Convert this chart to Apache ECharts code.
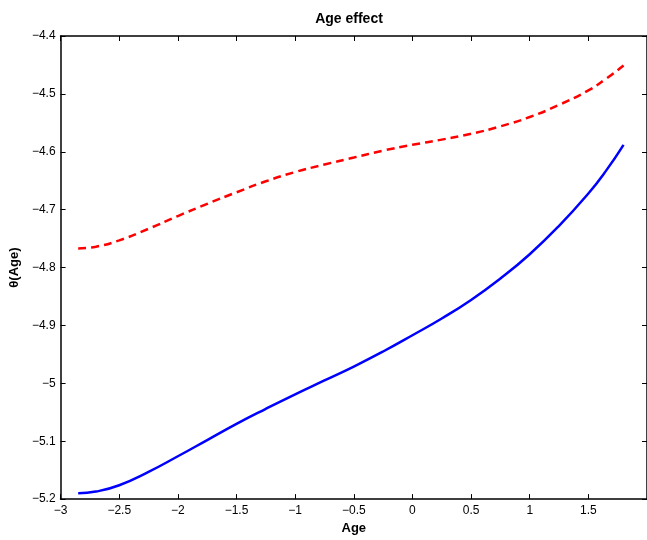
<!DOCTYPE html>
<html>
<head>
<meta charset="utf-8">
<script src="https://cdn.jsdelivr.net/npm/echarts@6/dist/echarts.min.js"></script>
<style>
html, body { margin: 0; padding: 0; background: #fff; }
#chart { width: 647px; height: 540px; }
</style>
</head>
<body>
<div id="chart"></div>
<script>
// age grid (x) and the two fitted curves
var ages = [-2.85, -2.7, -2.5, -2.25, -2, -1.75, -1.5, -1.25, -1, -0.75, -0.5, -0.25,
            0, 0.25, 0.5, 0.75, 1, 1.25, 1.5, 1.65, 1.8];
var blueCurve = [-5.190, -5.187, -5.176, -5.153, -5.126, -5.098, -5.070, -5.044, -5.019, -4.995, -4.971, -4.945,
                 -4.917, -4.888, -4.856, -4.819, -4.777, -4.728, -4.672, -4.633, -4.588];
var redCurve = [-4.767, -4.764, -4.753, -4.733, -4.711, -4.690, -4.670, -4.651, -4.635, -4.622, -4.610, -4.598,
                -4.588, -4.579, -4.569, -4.556, -4.540, -4.519, -4.494, -4.474, -4.451];

var chart = echarts.init(document.getElementById('chart'));
var font = 'Liberation Sans, Arial, sans-serif';

function minus(v) {
    return String(v).replace('-', '\u2212');
}

function pairs(ys) {
    return ages.map(function (a, i) { return [a, ys[i]]; });
}

var axisLine = { show: true, onZero: false, lineStyle: { color: '#000', width: 1.5 } };
var axisTick = { show: true, inside: true, length: 5, lineStyle: { color: '#000' } };

var option = {
    animation: false,
    backgroundColor: '#fff',
    title: {
        text: 'Age effect',
        left: 344,
        top: 7,
        textAlign: 'center',
        textStyle: { fontFamily: font, fontSize: 14, fontWeight: 'bold', color: '#000' }
    },
    grid: { left: 60.5, right: -4, top: 36, bottom: 36 },
    xAxis: [{
        type: 'value',
        min: -3, max: 2, interval: 0.5,
        name: 'Age',
        nameLocation: 'middle',
        nameGap: 20,
        nameTextStyle: { fontFamily: font, fontSize: 13, fontWeight: 'bold', color: '#000' },
        axisLine: axisLine,
        axisTick: axisTick,
        splitLine: { show: false },
        axisLabel: {
            showMaxLabel: false, margin: 6,
            fontFamily: font, fontSize: 12, color: '#000',
            formatter: minus
        }
    }, {
        type: 'value', position: 'top',
        min: -3, max: 2, interval: 0.5,
        axisLine: axisLine, axisTick: axisTick,
        splitLine: { show: false }, axisLabel: { show: false }
    }],
    yAxis: [{
        type: 'value',
        min: -5.2, max: -4.4, interval: 0.1,
        name: '\u03b8(Age)',
        nameLocation: 'middle',
        nameGap: 37,
        nameTextStyle: { fontFamily: font, fontSize: 13, fontWeight: 'bold', color: '#000' },
        axisLine: axisLine,
        axisTick: axisTick,
        splitLine: { show: false },
        axisLabel: {
            margin: 5,
            fontFamily: font, fontSize: 12, color: '#000',
            formatter: function (v) { return minus(Math.round(v * 10) / 10); }
        }
    }, {
        type: 'value', position: 'right',
        min: -5.2, max: -4.4, interval: 0.1,
        axisLine: axisLine, axisTick: axisTick,
        splitLine: { show: false }, axisLabel: { show: false }
    }],
    series: [{
        type: 'line',
        data: pairs(blueCurve),
        smooth: true,
        showSymbol: false,
        lineStyle: { color: '#0000ff', width: 2.5 }
    }, {
        type: 'line',
        data: pairs(redCurve),
        smooth: true,
        showSymbol: false,
        lineStyle: { color: '#ff0000', width: 2.5, type: [8, 5] }
    }]
};

chart.setOption(option);
</script>
</body>
</html>
